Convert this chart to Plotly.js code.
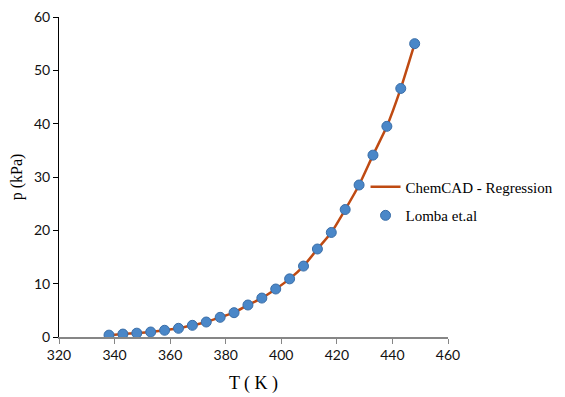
<!DOCTYPE html>
<html>
<head>
<meta charset="utf-8">
<script src="https://cdn.plot.ly/plotly-3.0.1.min.js"></script>
<style>html,body{margin:0;padding:0;background:#fff;}#chart{width:565px;height:397px;}</style>
</head>
<body>
<div id="chart"></div>
<script>
// Temperatures (K)
const temperatureK = [338, 343, 348, 353, 358, 363, 368, 373, 378, 383, 388, 393, 398, 403, 408, 413, 418, 423, 428, 433, 438, 443, 448];
// Experimental vapour pressure, Lomba et.al (kPa)
const lombaP = [0.35, 0.55, 0.72, 0.94, 1.26, 1.63, 2.19, 2.81, 3.69, 4.56, 6.0, 7.3, 9.0, 10.9, 13.3, 16.5, 19.6, 23.9, 28.5, 34.1, 39.5, 46.6, 55.0];
// ChemCAD regression curve (kPa)
const regressionP = [0.35, 0.55, 0.72, 0.94, 1.26, 1.63, 2.19, 2.81, 3.69, 4.56, 6.0, 7.3, 9.0, 10.9, 13.3, 16.5, 19.6, 23.9, 28.5, 34.1, 39.5, 46.6, 55.0];
const xTicks = [320, 340, 360, 380, 400, 420, 440, 460];
const yTicks = [0, 10, 20, 30, 40, 50, 60];

const traces = [
  {
    x: temperatureK, y: regressionP, type: 'scatter', mode: 'lines',
    name: 'ChemCAD - Regression', legendgroup: 'a',
    line: {color: '#BF4A12', width: 2.5, shape: 'spline', smoothing: 0.6}
  },
  {
    x: temperatureK, y: lombaP, type: 'scatter', mode: 'markers',
    name: 'Lomba et.al', legendgroup: 'b',
    marker: {color: '#4A87C8', size: 10, line: {color: '#3A6EA8', width: 1}}
  }
];

const layout = {
  width: 565, height: 397,
  margin: {l: 59, r: 117, t: 17, b: 60, autoexpand: false},
  paper_bgcolor: '#fff', plot_bgcolor: '#fff',
  showlegend: true,
  legend: {
    x: 0.788, y: 0.52, xanchor: 'left', yanchor: 'top',
    font: {family: 'Liberation Serif', size: 15, color: '#000'},
    bgcolor: 'rgba(0,0,0,0)', tracegroupgap: 6, itemwidth: 30
  },
  xaxis: {
    range: [320, 460], tickvals: xTicks, ticktext: xTicks.map(String),
    showgrid: false, zeroline: false,
    showline: true, linecolor: '#868686', linewidth: 1.5,
    ticks: 'outside', ticklen: 5, tickcolor: '#868686', tickwidth: 1,
    tickfont: {family: 'Lato, Open Sans, sans-serif', size: 14, color: '#111'},
    title: {text: 'T ( K )', font: {family: 'Liberation Serif', size: 18, color: '#000'}, standoff: 14}
  },
  yaxis: {
    range: [0, 60], tickvals: yTicks, ticktext: yTicks.map(String),
    showgrid: false, zeroline: false,
    showline: true, linecolor: '#000', linewidth: 1,
    ticks: 'outside', ticklen: 5, tickcolor: '#000', tickwidth: 1,
    tickfont: {family: 'Lato, Open Sans, sans-serif', size: 14, color: '#111'},
    title: {text: 'p (kPa)', font: {family: 'Liberation Serif', size: 16, color: '#000'}, standoff: 7}
  }
};

Plotly.newPlot('chart', traces, layout, {displayModeBar: false, staticPlot: true});
</script>
</body>
</html>
